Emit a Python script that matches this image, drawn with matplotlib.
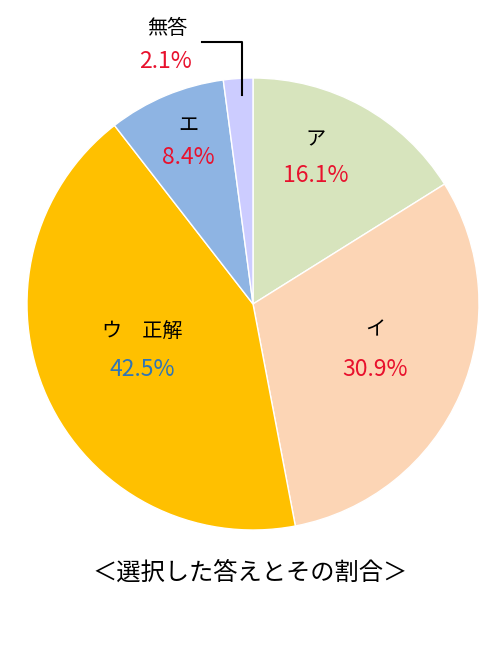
import matplotlib.pyplot as plt

plt.rcParams['font.family'] = ['Noto Sans CJK JP', 'DejaVu Sans']

# Data
labels = ["ア", "イ", "ウ\u3000正解", "エ", "無答"]
shares = [16.1, 30.9, 42.5, 8.4, 2.1]
colors = ["#D7E4BD", "#FCD5B5", "#FFC000", "#8EB4E3", "#CCCCFF"]
pct_colors = ["#E8112D", "#E8112D", "#2E75B6", "#E8112D", "#E8112D"]

# label positions in pixel coordinates (x, y from top)
label_pos = [(316, 140), (375, 330), (142, 331), (188, 125), (167, 28)]
pct_pos = [(316, 175), (375, 370), (142, 369), (188, 158), (165, 62)]

W, H = 500, 660
fig = plt.figure(figsize=(W / 100, H / 100), dpi=100)
ax = fig.add_axes([0, 0, 1, 1])

ax.pie(
    shares,
    colors=colors,
    startangle=90,
    counterclock=False,
    center=(253, H - 304),
    radius=226,
    wedgeprops=dict(edgecolor="white", linewidth=1),
    frame=True,
)
ax.set_xlim(0, W)
ax.set_ylim(0, H)
ax.axis("off")

for lab, (lx, ly), val, (px, py), c in zip(labels, label_pos, shares, pct_pos, pct_colors):
    ax.text(lx, H - ly, lab, ha="center", va="center", fontsize=14.5, color="black")
    ax.text(px, H - py, f"{val:.1f}%", ha="center", va="center", fontsize=16.5, color=c)

# leader line for 無答
ax.plot([202, 242, 242], [H - 42, H - 42, H - 95], color="black", linewidth=1.5)

ax.text(250, H - 573, "＜選択した答えとその割合＞", ha="center", va="center",
        fontsize=17.5, color="black")

fig.savefig("out.png", dpi=100)
